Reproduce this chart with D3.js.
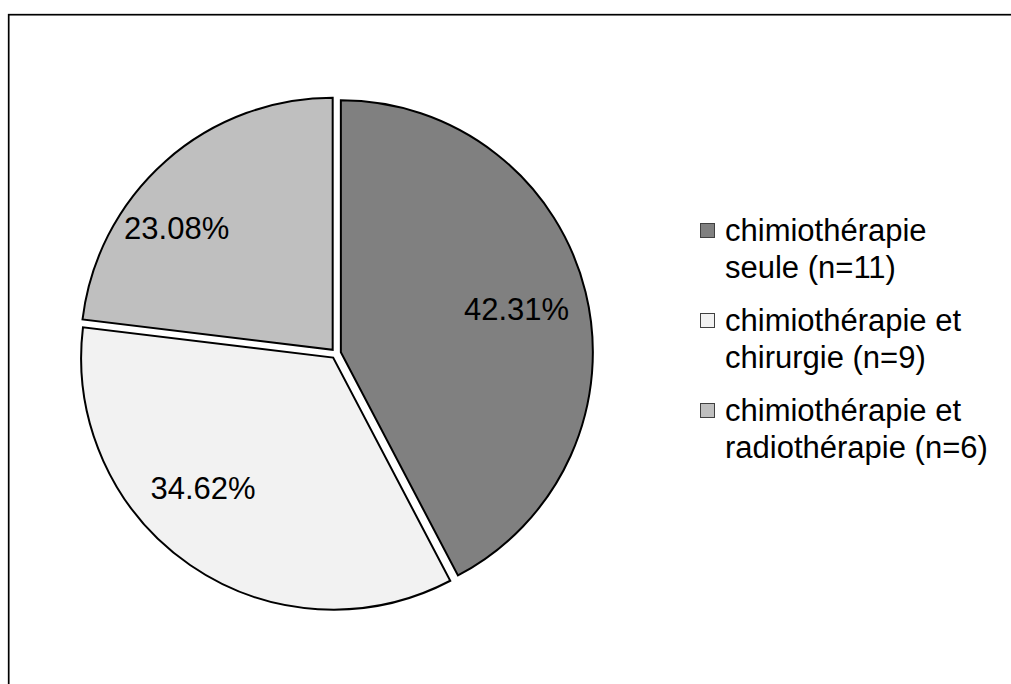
<!DOCTYPE html>
<html>
<head>
<meta charset="utf-8">
<script src="https://cdn.jsdelivr.net/npm/d3@7"></script>
<style>
  html, body { margin: 0; padding: 0; background: #fff; }
  svg { display: block; font-family: "Liberation Sans", Arial, sans-serif; }
</style>
</head>
<body>
<svg id="chart" width="1011" height="684"></svg>
<script>
// ---- data ----
const categories = [
  ["chimiothérapie", "seule (n=11)"],
  ["chimiothérapie et", "chirurgie (n=9)"],
  ["chimiothérapie et", "radiothérapie (n=6)"]
];
const counts = [11, 9, 6];
const percentLabels = ["42.31%", "34.62%", "23.08%"];
const colors = ["#808080", "#f2f2f2", "#bfbfbf"];

// ---- layout ----
const W = 1011, H = 684;
const cx = 336, cy = 353.5, R = 252, explode = 5;
// label placement (degrees clockwise from top, radius from slice apex)
const labelAngleDeg = [76, 225, 308];
const labelDist = [181, 184, 198];

const svg = d3.select("#chart");

// frame (extends beyond right/bottom like the reference)
svg.append("rect")
  .attr("x", 8.7).attr("y", 14.7)
  .attr("width", W + 20).attr("height", H + 20)
  .attr("fill", "none").attr("stroke", "#000").attr("stroke-width", 1.7);

const pie = d3.pie().sort(null).value(d => d)(counts);
const arc = d3.arc().innerRadius(0).outerRadius(R);

const g = svg.append("g").attr("transform", `translate(${cx},${cy})`);

const slices = g.selectAll("g.slice").data(pie).join("g")
  .attr("class", "slice")
  .attr("transform", d => {
    const a = (d.startAngle + d.endAngle) / 2;
    return `translate(${explode * Math.sin(a)},${-explode * Math.cos(a)})`;
  });

slices.append("path")
  .attr("d", arc)
  .attr("fill", (d, i) => colors[i])
  .attr("stroke", "#000")
  .attr("stroke-width", 2)
  .attr("stroke-linejoin", "miter");

slices.append("text")
  .attr("x", (d, i) => labelDist[i] * Math.sin(labelAngleDeg[i] * Math.PI / 180))
  .attr("y", (d, i) => -labelDist[i] * Math.cos(labelAngleDeg[i] * Math.PI / 180))
  .attr("dy", "0.36em")
  .attr("text-anchor", "middle")
  .attr("font-size", 31)
  .attr("fill", "#000")
  .text((d, i) => percentLabels[i]);

// legend
const legend = svg.append("g").attr("transform", "translate(700,241)");
const items = legend.selectAll("g.item").data(categories).join("g")
  .attr("class", "item")
  .attr("transform", (d, i) => `translate(0,${i * 90})`);

items.append("rect")
  .attr("x", 0.5).attr("y", -17.5)
  .attr("width", 14).attr("height", 14)
  .attr("fill", (d, i) => colors[i])
  .attr("stroke", "#404040").attr("stroke-width", 1);

items.append("text")
  .attr("x", 25).attr("y", 0)
  .attr("font-size", 31)
  .attr("fill", "#000")
  .selectAll("tspan").data(d => d).join("tspan")
  .attr("x", 25)
  .attr("dy", (d, j) => j === 0 ? 0 : 37)
  .text(d => d);
</script>
</body>
</html>
